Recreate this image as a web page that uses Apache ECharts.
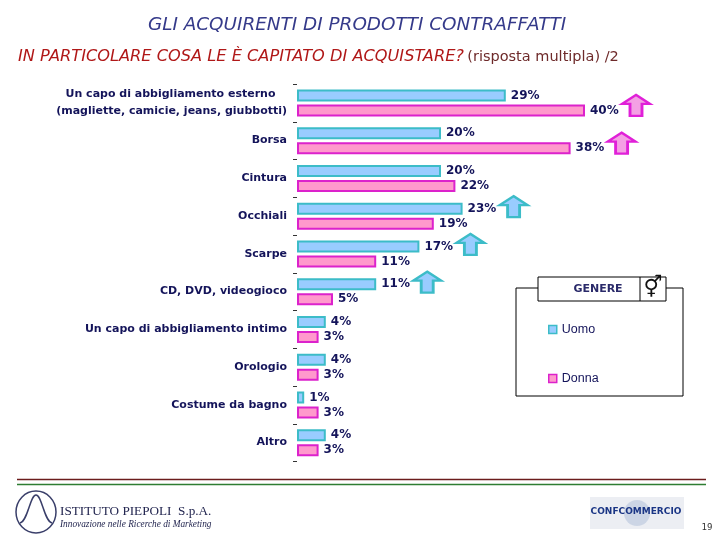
<!DOCTYPE html>
<html><head><meta charset="utf-8">
<script src="https://cdn.jsdelivr.net/npm/echarts@6/dist/echarts.min.js"></script>
<style>html,body{margin:0;padding:0;background:#fff}#c{width:720px;height:540px}</style>
</head><body><div id="c"></div>
<script>
const categories = [
  'Un capo di abbigliamento esterno\u00a0\u00a0\u00a0\n(magliette, camicie, jeans, giubbotti)',
  'Borsa', 'Cintura', 'Occhiali', 'Scarpe', 'CD, DVD, videogioco',
  'Un capo di abbigliamento intimo', 'Orologio', 'Costume da bagno', 'Altro'
];
const uomo  = [29, 20, 20, 23, 17, 11, 4, 4, 1, 4];
const donna = [40, 38, 22, 19, 11, 5, 3, 3, 3, 3];
const seriesNames = ['Uomo', 'Donna'];
const arrowUomoIdx = [3, 4, 5];
const arrowDonnaIdx = [0, 1];

const navy = '#14145a';
const uFill = '#99ccff', uBorder = '#3cbcc8';
const dFill = '#ff99cc', dBorder = '#dc22cc';
const arrowPath = 'path://M14,0 L28,9 L20,9 L20,21 L8,21 L8,9 L0,9 Z';

function arrows(vals, idx, fill, border, dy) {
  return idx.map(i => ({
    coord: [vals[i], i],
    symbol: arrowPath,
    symbolSize: [28, 21],
    symbolOffset: [51, dy],
    itemStyle: { color: fill, borderColor: border, borderWidth: 2.5 },
    label: { show: false }
  }));
}

const chart = echarts.init(document.getElementById('c'), null, { renderer: 'canvas' });
const lbl = { show: true, position: 'right', distance: 5, formatter: '{c}%',
  color: navy, fontWeight: 'bold', fontFamily: 'DejaVu Sans', fontSize: 12 };

chart.setOption({
  animation: false,
  backgroundColor: '#fff',
  grid: { left: 297, top: 84, bottom: 78.5, right: 63, containLabel: false },
  xAxis: { type: 'value', min: 0, max: 50, show: false },
  yAxis: {
    type: 'category', data: categories, inverse: true,
    axisLine: { show: false },
    axisTick: { show: true, length: 4, lineStyle: { color: '#333' } },
    axisLabel: { color: navy, fontWeight: 'bold', fontFamily: 'DejaVu Sans',
      fontSize: 11, margin: 10, lineHeight: 17 }
  },
  legend: {
    data: seriesNames, orient: 'vertical', left: 543, top: 318, itemGap: 36,
    icon: 'rect', itemWidth: 8, itemHeight: 8,
    itemStyle: { borderWidth: 1.5 },
    textStyle: { color: navy, fontSize: 12.5, fontFamily: 'Liberation Sans' }
  },
  series: [
    { name: seriesNames[0], type: 'bar', data: uomo, barWidth: 12, barGap: '25%',
      itemStyle: { color: uFill, borderColor: uBorder, borderWidth: 2 },
      label: lbl,
      markPoint: { data: arrows(uomo, arrowUomoIdx, uFill, uBorder, -2) } },
    { name: seriesNames[1], type: 'bar', data: donna, barWidth: 12,
      itemStyle: { color: dFill, borderColor: dBorder, borderWidth: 2 },
      label: lbl,
      markPoint: { data: arrows(donna, arrowDonnaIdx, '#f4a0e4', '#e020d8', -5) } }
  ],
  graphic: [
    { type: 'text', style: { text: 'GLI ACQUIRENTI DI PRODOTTI CONTRAFFATTI', x: 357, y: 25,
      textAlign: 'center', textVerticalAlign: 'middle',
      font: 'italic 18.4px "DejaVu Sans"', fill: '#353a8a' } },
    { type: 'text', style: { x: 18, y: 57, textVerticalAlign: 'middle',
      text: '{a|IN PARTICOLARE COSA LE È CAPITATO DI ACQUISTARE?} {b|(risposta multipla) /2}',
      rich: {
        a: { fontStyle: 'italic', fontSize: 16.2, fontFamily: 'DejaVu Sans', fill: '#b01818' },
        b: { fontSize: 14.5, fontFamily: 'DejaVu Sans', fill: '#6e2a2a' }
      } } },
    // legend frame
    { type: 'rect', shape: { x: 516, y: 288, width: 167, height: 108 },
      style: { fill: 'none', stroke: '#000', lineWidth: 1 } },
    { type: 'rect', shape: { x: 538, y: 277, width: 128, height: 24 },
      style: { fill: '#fff', stroke: '#000', lineWidth: 1 } },
    { type: 'line', shape: { x1: 640, y1: 277, x2: 640, y2: 301 },
      style: { stroke: '#000', lineWidth: 1 } },
    { type: 'text', style: { text: 'GENERE', x: 598, y: 289, textAlign: 'center',
      textVerticalAlign: 'middle', font: 'bold 11px "DejaVu Sans"', fill: '#2a2a6a' } },
    { type: 'text', style: { text: '\u26A5', x: 653, y: 289, textAlign: 'center',
      textVerticalAlign: 'middle', font: '21px "DejaVu Sans"', fill: '#111' } },
    // footer
    { type: 'line', shape: { x1: 17, y1: 479.5, x2: 706, y2: 479.5 },
      style: { stroke: '#6b1c1c', lineWidth: 1.5 } },
    { type: 'line', shape: { x1: 17, y1: 484.5, x2: 706, y2: 484.5 },
      style: { stroke: '#2e7d32', lineWidth: 1.5 } },
    { type: 'ellipse', shape: { cx: 36, cy: 512, rx: 20, ry: 21 },
      style: { fill: 'none', stroke: '#3a3f6a', lineWidth: 1.5 } },
    { type: 'bezierCurve', shape: { x1: 20, y1: 523, cpx1: 28, cpy1: 521, cpx2: 30, cpy2: 495, x2: 36, y2: 495 },
      style: { fill: 'none', stroke: '#3a3f6a', lineWidth: 1.5 } },
    { type: 'bezierCurve', shape: { x1: 36, y1: 495, cpx1: 42, cpy1: 495, cpx2: 44, cpy2: 521, x2: 52, y2: 523 },
      style: { fill: 'none', stroke: '#3a3f6a', lineWidth: 1.5 } },
    { type: 'text', style: { text: 'ISTITUTO PIEPOLI  S.p.A.', x: 60, y: 512,
      textVerticalAlign: 'middle', font: '13.2px "Liberation Serif"', fill: '#232650' } },
    { type: 'text', style: { text: 'Innovazione nelle Ricerche di Marketing', x: 60, y: 525,
      textVerticalAlign: 'middle', font: 'italic 9.3px "Liberation Serif"', fill: '#232650' } },
    { type: 'rect', shape: { x: 590, y: 497, width: 94, height: 32 },
      style: { fill: '#eceef3', stroke: 'none' } },
    { type: 'circle', shape: { cx: 637, cy: 513, r: 13 },
      style: { fill: '#b7c4dc', stroke: 'none', opacity: 0.6 } },
    { type: 'text', style: { text: 'CONFCOMMERCIO', x: 636, y: 512, textAlign: 'center',
      textVerticalAlign: 'middle', font: 'bold 9px "DejaVu Sans"', fill: '#1a3585' } },
    { type: 'text', style: { text: '19', x: 707, y: 528, textAlign: 'center',
      textVerticalAlign: 'middle', font: '9px "DejaVu Sans Mono"', fill: '#333' } }
  ]
});
</script></body></html>
